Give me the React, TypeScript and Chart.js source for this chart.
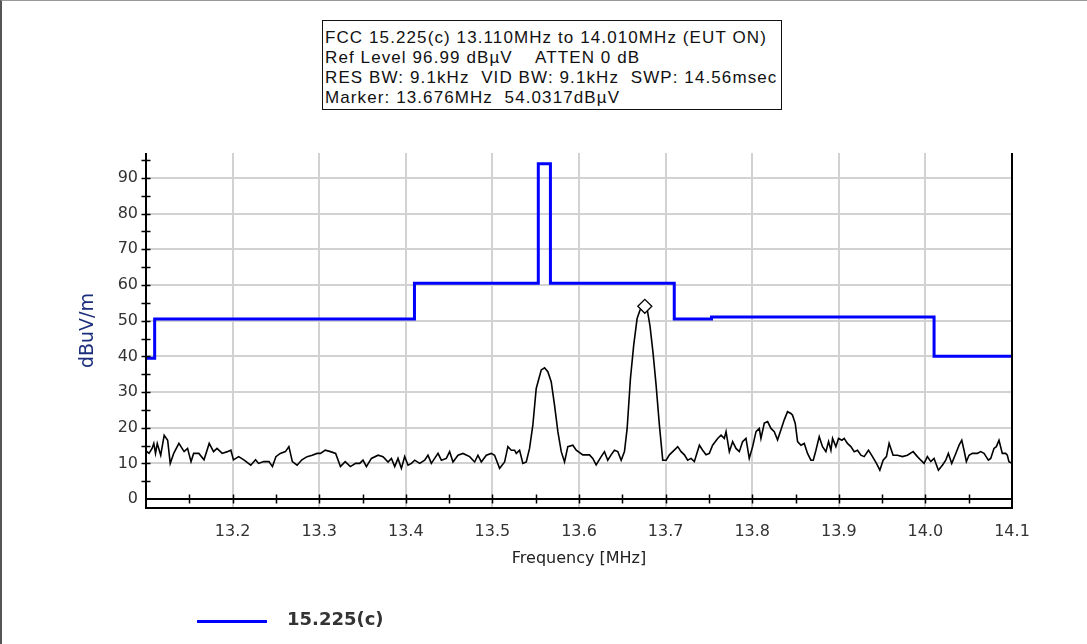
import { useEffect, useRef } from "react";
import { Chart, registerables } from "chart.js";

Chart.register(...registerables);

// Header block text
const headerLines = [
  "FCC 15.225(c) 13.110MHz to 14.010MHz (EUT ON)",
  "Ref Level 96.99 dBµV    ATTEN 0 dB",
  "RES BW: 9.1kHz  VID BW: 9.1kHz  SWP: 14.56msec",
  "Marker: 13.676MHz  54.0317dBµV",
];

const limitName = "15.225(c)";

// FCC 15.225 limit mask (step line)
const limitFreq = [13.1, 13.11, 13.41, 13.553, 13.567, 13.71, 13.753, 14.01, 14.1];
const limitLevel = [39.5, 50.5, 60.5, 94, 60.5, 50.5, 51, 40, 40];

// Measured spectrum trace
const noiseFreq = [
  13.1, 13.1035, 13.107, 13.109, 13.111, 13.113, 13.117, 13.121, 13.125, 13.128,
  13.132, 13.138, 13.144, 13.148, 13.152, 13.155, 13.161, 13.167, 13.173, 13.178,
  13.182, 13.188, 13.194, 13.198, 13.201, 13.207, 13.213, 13.221, 13.2265, 13.23,
  13.236, 13.242, 13.246, 13.25, 13.255, 13.261, 13.265, 13.269, 13.2745, 13.28,
  13.286, 13.292, 13.2975, 13.3015, 13.307, 13.313, 13.319, 13.3245, 13.33, 13.336,
  13.342, 13.3468, 13.3506, 13.3545, 13.3603, 13.368, 13.3737, 13.3795, 13.3834, 13.3872,
  13.391, 13.3949, 13.3987, 13.4026, 13.4065, 13.4103, 13.416, 13.4218, 13.4256, 13.4295,
  13.4333, 13.4372, 13.4411, 13.4468, 13.4506, 13.4545, 13.4603, 13.466, 13.4737, 13.4795,
  13.4833, 13.4872, 13.493, 13.4987, 13.5025, 13.5083, 13.5141, 13.5179, 13.5218, 13.5256,
  13.5276, 13.5314, 13.5352, 13.5391, 13.5429, 13.5467, 13.5506, 13.5564, 13.5602, 13.564,
  13.5679, 13.5717, 13.5756, 13.5795, 13.5833, 13.5871, 13.5929, 13.5968, 13.6044, 13.6121,
  13.6159, 13.6198, 13.6256, 13.6294, 13.6332, 13.6371, 13.6409, 13.6448, 13.6487, 13.6525,
  13.6556, 13.6594, 13.6632, 13.6671, 13.6705, 13.676, 13.679, 13.682, 13.6855, 13.689,
  13.6928, 13.6967, 13.7006, 13.7044, 13.7082, 13.714, 13.7179, 13.7217, 13.7255, 13.7294,
  13.7332, 13.739, 13.7428, 13.7467, 13.7505, 13.7543, 13.7601, 13.764, 13.7678, 13.7698,
  13.7736, 13.7774, 13.7813, 13.7851, 13.7889, 13.7928, 13.7966, 13.8005, 13.8044, 13.8082,
  13.8101, 13.814, 13.8178, 13.8217, 13.8255, 13.8293, 13.8332, 13.837, 13.8408, 13.8447,
  13.8466, 13.8497, 13.8524, 13.8563, 13.8601, 13.8639, 13.8678, 13.8705, 13.8736, 13.8774,
  13.8812, 13.8851, 13.8882, 13.8909, 13.8928, 13.8966, 13.8997, 13.9036, 13.9062, 13.91,
  13.9139, 13.9178, 13.9216, 13.9255, 13.9293, 13.9343, 13.9389, 13.9435, 13.9474, 13.9512,
  13.955, 13.9581, 13.9627, 13.9677, 13.9735, 13.9792, 13.9858, 13.9908, 13.9947, 13.9985,
  14.0023, 14.0062, 14.01, 14.015, 14.0196, 14.0235, 14.0265, 14.0304, 14.0343, 14.0389,
  14.042, 14.0446, 14.0473, 14.0504, 14.0542, 14.06, 14.0638, 14.0677, 14.0727, 14.0754,
  14.0792, 14.0819, 14.085, 14.0888, 14.0927, 14.0946, 14.0965, 14.1,
];
const noiseLevel = [
  13.5, 12.8, 14.2, 15.6, 12.8, 15.6, 12.3, 17.9, 16.5, 10.0,
  12.8, 15.6, 13.3, 14.2, 10.5, 12.8, 12.8, 11.0, 15.6, 13.3,
  14.2, 12.8, 13.3, 13.7, 11.0, 11.9, 11.0, 9.5, 11.0, 10.0,
  10.5, 10.5, 9.1, 11.9, 12.8, 13.3, 14.7, 10.5, 9.5, 11.0,
  11.9, 12.3, 12.8, 12.8, 13.7, 13.3, 12.8, 9.1, 10.5, 9.1,
  10.0, 10.0, 10.9, 9.1, 11.4, 12.3, 11.9, 10.4, 11.4, 9.1,
  11.4, 8.6, 11.9, 9.5, 10.0, 10.9, 10.0, 10.9, 12.3, 10.0,
  11.4, 12.8, 10.9, 11.4, 13.3, 10.4, 12.3, 12.8, 11.9, 10.4,
  12.3, 10.4, 12.3, 12.8, 12.3, 8.6, 10.4, 14.7, 13.7, 13.7,
  12.8, 13.7, 10.0, 10.4, 14.2, 20.7, 31.0, 36.2, 36.8, 35.7,
  32.9, 26.4, 18.9, 13.3, 10.4, 14.7, 15.1, 13.7, 12.4, 12.4,
  11.4, 9.6, 11.9, 13.3, 10.9, 12.4, 13.7, 13.3, 10.9, 13.3,
  19.8, 33.8, 43.2, 50.6, 53.0, 54.0317, 52.8, 48.5, 41.0, 32.0,
  20.8, 10.9, 10.9, 12.4, 13.3, 14.7, 13.3, 12.4, 10.9, 11.4,
  10.5, 15.1, 13.7, 12.4, 12.8, 15.1, 17.0, 17.9, 17.0, 18.9,
  13.3, 16.1, 14.2, 13.3, 16.1, 17.0, 11.4, 14.7, 18.9, 19.8,
  17.0, 21.3, 21.7, 19.8, 18.9, 16.6, 19.4, 22.2, 24.5, 24.0,
  23.5, 21.2, 16.1, 15.1, 15.6, 12.8, 10.9, 10.9, 13.7, 17.5,
  14.7, 13.3, 16.1, 13.7, 17.0, 14.7, 17.0, 16.5, 17.0, 15.6,
  14.7, 13.3, 13.7, 12.3, 11.9, 13.7, 11.9, 10.0, 8.1, 10.9,
  11.9, 15.6, 12.3, 12.3, 11.9, 12.3, 13.3, 11.9, 10.9, 10.0,
  11.9, 10.5, 11.4, 8.1, 9.5, 10.9, 12.8, 10.0, 12.3, 15.1,
  16.5, 13.7, 10.5, 12.3, 12.8, 12.8, 13.3, 12.8, 10.9, 11.4,
  14.2, 14.7, 16.5, 12.8, 12.8, 12.3, 10.5, 10.0,
];

// Peak marker
const markerFreq = 13.676;
const markerLevel = 54.0317;

// Axis ticks
const xTickValues = [13.2, 13.3, 13.4, 13.5, 13.6, 13.7, 13.8, 13.9, 14.0, 14.1];
const yTickValues = [0, 10, 20, 30, 40, 50, 60, 70, 80, 90];
const xMinorStep = 0.05;
const yMinorStep = 5;

const X_MIN = 13.1;
const X_MAX = 14.1;
const Y_MIN = -2.5;
const Y_MAX = 97;

// Plot frame, zero line and crossing tick marks
const framePlugin = {
  id: "spectrumFrame",
  afterDraw(chart: any) {
    const { ctx, chartArea: a, scales } = chart;
    const x = scales.x;
    const y = scales.y;
    const y0 = y.getPixelForValue(0);
    ctx.save();
    ctx.strokeStyle = "#000";
    ctx.lineWidth = 2;
    ctx.beginPath();
    ctx.moveTo(a.left, a.top);
    ctx.lineTo(a.left, a.bottom);
    ctx.lineTo(a.right, a.bottom);
    ctx.lineTo(a.right, a.top);
    ctx.moveTo(a.left, y0);
    ctx.lineTo(a.right, y0);
    ctx.stroke();

    ctx.lineWidth = 1.5;
    ctx.beginPath();
    for (let v = yMinorStep; v < Y_MAX; v += yMinorStep) {
      const py = Math.round(y.getPixelForValue(v)) + 0.5;
      ctx.moveTo(a.left - 4.5, py);
      ctx.lineTo(a.left + 4.5, py);
    }
    const n = Math.round((X_MAX - X_MIN) / xMinorStep);
    for (let i = 1; i < n; i++) {
      const px = Math.round(x.getPixelForValue(X_MIN + i * xMinorStep)) + 0.5;
      ctx.moveTo(px, y0 - 4.5);
      ctx.lineTo(px, y0 + 4.5);
    }
    ctx.stroke();
    ctx.restore();
  },
};

export default function App() {
  const canvasRef = useRef<HTMLCanvasElement | null>(null);

  useEffect(() => {
    const canvas = canvasRef.current;
    if (!canvas) return;

    const tickFont = { family: "'DejaVu Sans', sans-serif", size: 16 };

    const chart = new Chart(canvas, {
      type: "line",
      data: {
        datasets: [
          {
            label: limitName,
            data: limitFreq.map((f, i) => ({ x: f, y: limitLevel[i] })),
            borderColor: "#0000ff",
            backgroundColor: "#0000ff",
            borderWidth: 3,
            stepped: true,
            pointRadius: 0,
            order: 2,
          },
          {
            label: "Trace",
            data: noiseFreq.map((f, i) => ({ x: f, y: noiseLevel[i] })),
            borderColor: "#000000",
            borderWidth: 1.6,
            pointRadius: 0,
            tension: 0,
            order: 1,
          },
          {
            label: "Marker",
            data: [{ x: markerFreq, y: markerLevel }],
            showLine: false,
            pointStyle: "rectRot",
            pointRadius: 7,
            pointBorderWidth: 1.3,
            pointBorderColor: "#000000",
            pointBackgroundColor: "#ffffff",
            order: 0,
          },
        ],
      },
      options: {
        responsive: false,
        devicePixelRatio: 1,
        animation: false,
        layout: { padding: { left: 0, top: 153, right: 75, bottom: 74 } },
        plugins: {
          legend: { display: false },
          tooltip: { enabled: false },
          title: { display: false },
        },
        scales: {
          x: {
            type: "linear",
            min: X_MIN,
            max: X_MAX,
            afterBuildTicks: (s: any) => {
              s.ticks = xTickValues.map((v) => ({ value: v }));
            },
            afterFit: (s: any) => {
              s.height = 62;
            },
            ticks: {
              callback: (v: any) => Number(v).toFixed(1),
              font: tickFont,
              color: "#333333",
              padding: 14,
              maxRotation: 0,
              autoSkip: false,
            },
            grid: {
              color: (c: any) =>
                c.tick && c.tick.value > X_MAX - 1e-6 ? "rgba(0,0,0,0)" : "#d2d2d2",
              lineWidth: 2,
              drawTicks: false,
            },
            border: { display: false },
            title: {
              display: true,
              text: "Frequency [MHz]",
              font: { family: "'DejaVu Sans', sans-serif", size: 16 },
              color: "#222222",
              padding: { top: 0, bottom: 2 },
            },
          },
          y: {
            type: "linear",
            min: Y_MIN,
            max: Y_MAX,
            afterBuildTicks: (s: any) => {
              s.ticks = yTickValues.map((v) => ({ value: v }));
            },
            afterFit: (s: any) => {
              s.width = 146;
            },
            ticks: {
              font: tickFont,
              color: "#333333",
              padding: 8,
            },
            grid: {
              color: (c: any) => (c.tick && c.tick.value === 0 ? "rgba(0,0,0,0)" : "#d2d2d2"),
              lineWidth: 2,
              drawTicks: false,
            },
            border: { display: false },
            title: {
              display: true,
              text: "dBuV/m",
              font: { family: "'DejaVu Sans', sans-serif", size: 19 },
              color: "#1c2f7c",
              padding: { top: 77, bottom: 0 },
            },
          },
        },
      },
      plugins: [framePlugin],
    } as any);

    return () => chart.destroy();
  }, []);

  return (
    <div
      style={{
        position: "fixed",
        left: 0,
        top: 0,
        width: 1087,
        height: 644,
        background: "#ffffff",
        overflow: "hidden",
        boxSizing: "border-box",
        borderLeft: "2px solid #555",
        borderTop: "1px solid #999",
      }}
    >
      <canvas
        ref={canvasRef}
        width={1087}
        height={644}
        style={{ position: "absolute", left: -2, top: -1, width: 1087, height: 644 }}
      />
      <div
        style={{
          position: "absolute",
          left: 320,
          top: 19,
          width: 460,
          height: 90,
          boxSizing: "border-box",
          border: "1px solid #111",
          padding: "7px 2px 2px 2px",
          fontFamily: "'Liberation Sans', Arial, sans-serif",
          fontSize: 17,
          letterSpacing: "1.1px",
          lineHeight: "20px",
          color: "#111",
          whiteSpace: "pre",
          background: "#fff",
        }}
      >
        {headerLines.map((t) => (
          <div key={t}>{t}</div>
        ))}
      </div>
      <div
        style={{
          position: "absolute",
          left: 195,
          top: 619,
          width: 70,
          height: 3,
          background: "#0000ff",
        }}
      />
      <div
        style={{
          position: "absolute",
          left: 285,
          top: 606,
          lineHeight: "24px",
          fontFamily: "'DejaVu Sans', sans-serif",
          fontWeight: "bold",
          fontSize: 18,
          color: "#333",
          whiteSpace: "pre",
        }}
      >
        {limitName}
      </div>
    </div>
  );
}
